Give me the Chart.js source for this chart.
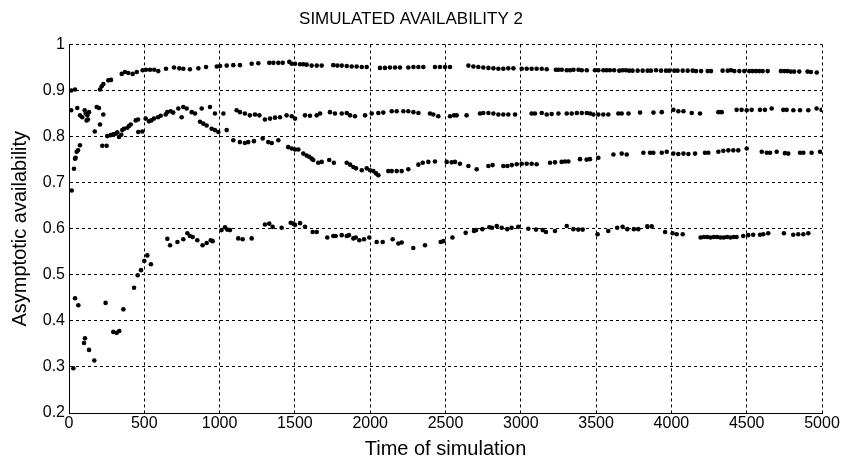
<!DOCTYPE html>
<html>
<head>
<meta charset="utf-8">
<script src="https://cdn.jsdelivr.net/npm/chart.js@4/dist/chart.umd.min.js"></script>
<style>
  html, body { margin: 0; padding: 0; background: #fff; }
  #wrap { width: 845px; height: 460px; }
</style>
</head>
<body>
<div id="wrap"><canvas id="chart" width="845" height="460"></canvas></div>
<script>
// axis setup
const xTicks = [0, 500, 1000, 1500, 2000, 2500, 3000, 3500, 4000, 4500, 5000];
const yTicks = [0.2, 0.3, 0.4, 0.5, 0.6, 0.7, 0.8, 0.9, 1];

// [time, availability], one list per simulated run
const runHigh = [
  [15,0.900],[40,0.902],[206,0.902],[217,0.909],[228,0.914],[261,0.922],[279,0.923],[350,0.936],[372,0.940],[394,0.938],
  [423,0.936],[450,0.940],[489,0.944],[511,0.945],[538,0.945],[566,0.945],[593,0.942],[644,0.947],[697,0.950],[732,0.948],
  [759,0.947],[803,0.946],[859,0.948],[910,0.951],[981,0.952],[1003,0.953],[1047,0.954],[1091,0.955],[1135,0.955],[1213,0.958],
  [1257,0.959],[1330,0.960],[1357,0.960],[1390,0.960],[1419,0.960],[1463,0.962],[1479,0.958],[1501,0.958],[1534,0.957],[1556,0.957],
  [1578,0.956],[1611,0.954],[1645,0.954],[1678,0.954],[1755,0.955],[1782,0.954],[1811,0.954],[1844,0.953],[1877,0.952],[1910,0.952],
  [1944,0.951],[1977,0.951],[2065,0.949],[2098,0.949],[2131,0.950],[2165,0.950],[2198,0.950],[2253,0.950],[2287,0.951],[2320,0.951],
  [2353,0.951],[2430,0.951],[2463,0.951],[2497,0.951],[2530,0.951],[2652,0.954],[2685,0.952],[2718,0.951],[2751,0.950],[2785,0.949],
  [2818,0.948],[2851,0.947],[2884,0.947],[2917,0.948],[2951,0.948],[3006,0.947],[3039,0.947],[3072,0.947],[3105,0.947],[3139,0.947],
  [3172,0.946],[3233,0.945],[3250,0.945],[3272,0.945],[3305,0.944],[3327,0.944],[3350,0.945],[3383,0.945],[3405,0.944],[3438,0.944],
  [3492,0.944],[3515,0.944],[3548,0.944],[3570,0.944],[3592,0.944],[3620,0.944],[3654,0.943],[3676,0.944],[3698,0.944],[3720,0.943],
  [3742,0.943],[3776,0.943],[3809,0.943],[3842,0.943],[3864,0.943],[3898,0.944],[3931,0.943],[3964,0.943],[3986,0.943],[4019,0.943],
  [4041,0.943],[4075,0.943],[4108,0.943],[4141,0.943],[4163,0.942],[4197,0.942],[4241,0.942],[4263,0.942],[4340,0.943],[4374,0.943],
  [4396,0.944],[4418,0.942],[4451,0.942],[4484,0.942],[4517,0.942],[4539,0.942],[4561,0.942],[4583,0.942],[4606,0.942],[4639,0.942],
  [4727,0.942],[4749,0.942],[4771,0.942],[4793,0.941],[4815,0.941],[4849,0.941],[4904,0.941],[4926,0.940],[4965,0.939]
];

const runUpper = [
  [15,0.857],[55,0.862],[73,0.846],[88,0.842],[104,0.857],[111,0.850],[122,0.846],[133,0.853],[117,0.835],[126,0.837],
  [184,0.864],[199,0.862],[228,0.848],[206,0.826],[171,0.811],[254,0.801],[277,0.803],[294,0.805],[310,0.806],[321,0.809],
  [347,0.804],[354,0.814],[365,0.817],[387,0.819],[398,0.823],[410,0.826],[443,0.835],[458,0.837],[509,0.839],[531,0.833],
  [547,0.835],[564,0.839],[591,0.842],[609,0.845],[642,0.848],[652,0.853],[675,0.855],[692,0.852],[726,0.861],[759,0.864],
  [781,0.861],[815,0.853],[837,0.850],[881,0.861],[936,0.864],[969,0.850],[1025,0.850],[1113,0.857],[1135,0.853],[1168,0.850],
  [1201,0.846],[1235,0.848],[1264,0.846],[1301,0.837],[1335,0.839],[1368,0.841],[1401,0.842],[1445,0.846],[1479,0.844],[1501,0.839],
  [1567,0.846],[1600,0.845],[1645,0.846],[1667,0.850],[1733,0.853],[1766,0.850],[1811,0.850],[1844,0.851],[1866,0.846],[1899,0.844],
  [1966,0.846],[2010,0.850],[2054,0.851],[2087,0.852],[2143,0.855],[2176,0.855],[2220,0.855],[2253,0.855],[2287,0.853],[2320,0.851],
  [2397,0.850],[2419,0.848],[2452,0.844],[2530,0.844],[2557,0.846],[2574,0.846],[2640,0.846],[2729,0.850],[2751,0.851],[2785,0.851],
  [2818,0.850],[2851,0.848],[2884,0.848],[2917,0.848],[2962,0.848],[3072,0.850],[3094,0.850],[3139,0.851],[3172,0.848],[3205,0.849],
  [3250,0.850],[3305,0.850],[3338,0.850],[3372,0.851],[3405,0.851],[3438,0.851],[3460,0.850],[3482,0.848],[3515,0.848],[3548,0.848],
  [3581,0.848],[3648,0.850],[3670,0.850],[3715,0.850],[3792,0.852],[3881,0.852],[3936,0.853],[4013,0.858],[4046,0.855],[4080,0.855],
  [4135,0.851],[4190,0.850],[4312,0.853],[4334,0.853],[4433,0.858],[4466,0.858],[4500,0.857],[4533,0.858],[4588,0.858],[4621,0.858],
  [4666,0.861],[4743,0.858],[4765,0.858],[4810,0.857],[4854,0.857],[4909,0.857],[4964,0.861],[4997,0.858]
];

const runMiddle = [
  [18,0.683],[33,0.730],[40,0.752],[44,0.754],[51,0.767],[60,0.770],[73,0.781],[221,0.780],[250,0.780],[332,0.799],
  [460,0.810],[487,0.811],[748,0.842],[870,0.832],[892,0.828],[914,0.824],[947,0.817],[969,0.814],[992,0.810],[1047,0.814],
  [1091,0.792],[1135,0.788],[1168,0.786],[1190,0.788],[1228,0.790],[1286,0.796],[1323,0.788],[1346,0.786],[1390,0.792],[1456,0.777],
  [1479,0.774],[1501,0.772],[1523,0.772],[1556,0.763],[1578,0.759],[1595,0.756],[1611,0.752],[1622,0.749],[1655,0.743],[1678,0.745],
  [1728,0.749],[1759,0.743],[1844,0.743],[1866,0.739],[1888,0.734],[1906,0.731],[1944,0.727],[1977,0.731],[1999,0.727],[2021,0.725],
  [2039,0.720],[2054,0.716],[2120,0.725],[2143,0.725],[2176,0.725],[2209,0.725],[2253,0.729],[2320,0.739],[2349,0.743],[2386,0.745],
  [2430,0.746],[2508,0.745],[2541,0.744],[2563,0.745],[2596,0.741],[2652,0.736],[2707,0.729],[2785,0.736],[2813,0.738],[2884,0.736],
  [2911,0.736],[2940,0.738],[2973,0.740],[3006,0.741],[3039,0.741],[3072,0.741],[3105,0.740],[3194,0.743],[3227,0.744],[3271,0.745],
  [3294,0.746],[3316,0.746],[3393,0.751],[3437,0.750],[3459,0.751],[3515,0.754],[3615,0.761],[3670,0.763],[3703,0.761],[3814,0.765],
  [3858,0.765],[3880,0.765],[3936,0.765],[3969,0.767],[4013,0.763],[4046,0.762],[4080,0.763],[4113,0.762],[4157,0.763],[4223,0.765],
  [4245,0.765],[4312,0.767],[4345,0.769],[4378,0.770],[4411,0.770],[4444,0.770],[4500,0.774],[4600,0.767],[4633,0.765],[4655,0.765],
  [4699,0.767],[4754,0.764],[4776,0.763],[4854,0.765],[4876,0.765],[4931,0.765],[4987,0.767]
];

const runLow = [
  [29,0.297],[40,0.449],[62,0.434],[100,0.352],[106,0.362],[133,0.337],[168,0.314],[243,0.439],[294,0.376],[317,0.374],
  [334,0.378],[361,0.425],[432,0.472],[456,0.499],[478,0.510],[500,0.530],[520,0.542],[544,0.523],[653,0.578],[671,0.564],
  [720,0.571],[759,0.577],[786,0.590],[803,0.584],[821,0.582],[852,0.575],[887,0.564],[914,0.569],[941,0.575],[954,0.573],
  [1013,0.597],[1036,0.603],[1051,0.598],[1069,0.597],[1124,0.579],[1153,0.577],[1213,0.579],[1301,0.609],[1330,0.611],[1352,0.604],
  [1412,0.602],[1472,0.613],[1490,0.611],[1501,0.608],[1534,0.612],[1567,0.604],[1618,0.593],[1645,0.593],[1715,0.581],[1755,0.584],
  [1771,0.584],[1811,0.586],[1844,0.584],[1859,0.586],[1888,0.579],[1904,0.581],[1928,0.575],[1959,0.577],[1994,0.581],[2043,0.571],
  [2083,0.571],[2149,0.577],[2187,0.568],[2209,0.570],[2286,0.558],[2364,0.564],[2468,0.571],[2486,0.573],[2546,0.581],[2634,0.591],
  [2689,0.595],[2703,0.597],[2745,0.599],[2791,0.603],[2809,0.602],[2840,0.606],[2873,0.602],[2910,0.599],[2939,0.602],[2983,0.604],
  [3050,0.600],[3101,0.598],[3145,0.597],[3167,0.593],[3227,0.595],[3305,0.606],[3349,0.599],[3382,0.598],[3411,0.598],[3510,0.588],
  [3581,0.595],[3640,0.602],[3676,0.604],[3707,0.599],[3751,0.599],[3780,0.599],[3840,0.605],[3869,0.605],[3958,0.593],[4008,0.590],
  [4035,0.588],[4075,0.588],[4194,0.581],[4216,0.582],[4238,0.582],[4260,0.581],[4282,0.582],[4304,0.582],[4326,0.581],[4348,0.581],
  [4370,0.582],[4392,0.581],[4414,0.582],[4433,0.582],[4477,0.584],[4510,0.586],[4543,0.587],[4588,0.587],[4610,0.588],[4643,0.590],
  [4747,0.590],[4809,0.587],[4842,0.588],[4876,0.588],[4909,0.590]
];

// the tick numbers in the picture are a narrow face; use one if it is installed
function fontInstalled(name) {
  const ctx = document.createElement('canvas').getContext('2d');
  const probe = '0.123456789 Time';
  ctx.font = '40px monospace';
  const base = ctx.measureText(probe).width;
  ctx.font = '40px "' + name + '", monospace';
  return ctx.measureText(probe).width !== base;
}
const narrow = fontInstalled('Liberation Sans Narrow');
const tickFont = narrow
  ? { family: '"Liberation Sans Narrow", "Liberation Sans", Arial, sans-serif', size: 18 }
  : { family: '"Liberation Sans", Arial, sans-serif', size: 16 };
const textFont = '"Liberation Sans", Arial, sans-serif';

const dotStyle = {
  backgroundColor: '#000',
  borderWidth: 0,
  pointRadius: 2.3,
  pointHoverRadius: 2.3
};
const toPoints = run => run.map(p => ({ x: p[0], y: p[1] }));

new Chart(document.getElementById('chart'), {
  type: 'scatter',
  data: {
    datasets: [
      { label: 'run 1', data: toPoints(runHigh), ...dotStyle },
      { label: 'run 2', data: toPoints(runUpper), ...dotStyle },
      { label: 'run 3', data: toPoints(runMiddle), ...dotStyle },
      { label: 'run 4', data: toPoints(runLow), ...dotStyle }
    ]
  },
  options: {
    responsive: false,
    animation: false,
    events: [],
    layout: { padding: { left: 0, right: 23, top: 0, bottom: 0 } },
    plugins: {
      legend: { display: false },
      tooltip: { enabled: false },
      title: {
        display: true,
        text: 'SIMULATED AVAILABILITY 2',
        color: '#000',
        font: { family: textFont, size: 17, weight: 'normal', lineHeight: 1.2 },
        padding: { top: 9, bottom: 15 }
      }
    },
    scales: {
      x: {
        type: 'linear',
        min: xTicks[0],
        max: xTicks[xTicks.length - 1],
        afterBuildTicks: s => { s.ticks = xTicks.map(v => ({ value: v })); },
        afterFit: s => { s.height = 47; },
        ticks: {
          color: '#000', font: tickFont, padding: 1, autoSkip: false, maxRotation: 0,
          callback: v => String(v)
        },
        grid: { color: '#000', lineWidth: 1, drawTicks: false },
        border: { display: true, color: '#000', width: 1, dash: [3, 3] },
        title: {
          display: true,
          text: 'Time of simulation',
          color: '#000',
          font: { family: textFont, size: 20, lineHeight: 1.1 },
          padding: { top: 0, bottom: 0 }
        }
      },
      y: {
        type: 'linear',
        min: yTicks[0],
        max: yTicks[yTicks.length - 1],
        afterBuildTicks: s => { s.ticks = yTicks.map(v => ({ value: v })); },
        afterFit: s => { s.width = 69; },
        ticks: {
          color: '#000', font: tickFont, padding: 4, autoSkip: false,
          callback: v => String(Math.round(v * 10) / 10)
        },
        grid: { color: '#000', lineWidth: 1, drawTicks: false },
        border: { display: true, color: '#000', width: 1, dash: [3, 3] },
        title: {
          display: true,
          text: 'Asymptotic availability',
          color: '#000',
          font: { family: textFont, size: 20, lineHeight: 1.1 },
          padding: { top: 9, bottom: 0 }
        }
      }
    }
  }
});
</script>
</body>
</html>
